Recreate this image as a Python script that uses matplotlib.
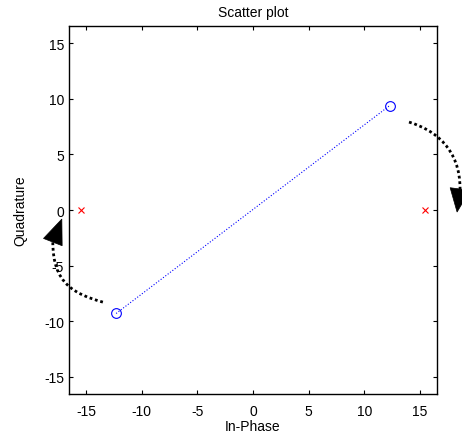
import matplotlib
matplotlib.use('Agg')
import numpy as np
import matplotlib.pyplot as plt
from matplotlib.path import Path
from matplotlib.patches import PathPatch, Polygon

plt.rcParams['font.family'] = ['Liberation Sans', 'DejaVu Sans']
plt.rcParams['axes.unicode_minus'] = False

# reference constellation points (red crosses)
ref_i = [-15.5, 15.5]
ref_q = [0.0, 0.0]

# received symbols (blue circles joined by a dotted line)
rx_i = [-12.3, 12.3]
rx_q = [-9.3, 9.4]

ticks = [-15, -10, -5, 0, 5, 10, 15]

fig = plt.figure(figsize=(4.62, 4.39), dpi=100)
ax = fig.add_axes([0.149, 0.100, 0.797, 0.8385])

ax.plot(rx_i, rx_q, color='blue', linestyle=':', linewidth=0.8,
        marker='o', markersize=7, markerfacecolor='none', markeredgewidth=0.8)
ax.plot(ref_i, ref_q, linestyle='none', marker='x', color='red',
        markersize=5, markeredgewidth=0.8)

ax.set_xlim(-16.55, 16.55)
ax.set_ylim(-16.55, 16.55)
ax.set_xticks(ticks)
ax.set_yticks(ticks)
ax.tick_params(direction='in', top=True, right=True, length=3, labelsize=10, width=0.8)
ax.tick_params(axis='x', pad=7)
for s in ax.spines.values():
    s.set_linewidth(1.0)

ax.set_title('Scatter plot', fontsize=10, pad=7)
ax.set_xlabel('In-Phase', fontsize=10, labelpad=1)
ax.set_ylabel('Quadrature', fontsize=10, labelpad=12)


def rot_arrow(p0, p1, p2, p3, tip, half_w=0.9):
    # dotted cubic curve, solid triangular head
    path = Path([p0, p1, p2, p3], [Path.MOVETO, Path.CURVE4, Path.CURVE4, Path.CURVE4])
    ax.add_patch(PathPatch(path, fill=False, edgecolor='black', linewidth=2.0,
                           linestyle=(0, (1, 1)), clip_on=False))
    base = np.array(p3)
    d = np.array(tip) - base
    n = np.array([-d[1], d[0]]) / np.hypot(*d) * half_w
    ax.add_patch(Polygon([base + n, tip, base - n], closed=True, facecolor='black',
                         edgecolor='black', linewidth=0.5, clip_on=False))


rot_arrow((-13.49, -8.28), (-16.01, -7.56), (-17.99, -6.66), (-17.99, -2.88), (-17.18, -0.81))
rot_arrow((14.03, 7.91), (16.37, 7.20), (18.62, 5.49), (18.62, 1.89), (18.35, -0.18))

fig.savefig('out.png', dpi=100)
